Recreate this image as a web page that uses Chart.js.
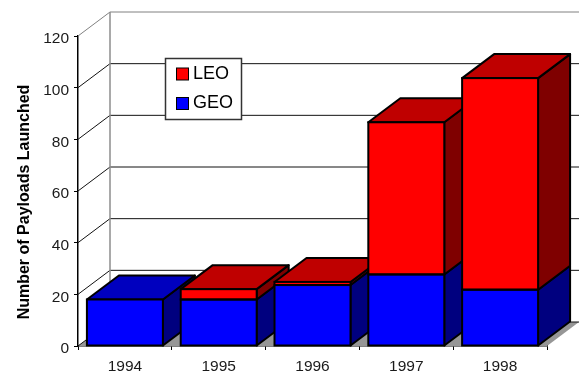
<!DOCTYPE html>
<html>
<head>
<meta charset="utf-8">
<style>
  html, body { margin: 0; padding: 0; background: #fff; }
  canvas { display: block; }
</style>
<script src="https://cdn.jsdelivr.net/npm/chart.js@4/dist/chart.umd.min.js"></script>
</head>
<body>
<canvas id="payloads" width="579" height="372"></canvas>
<script>
const years = ["1994", "1995", "1996", "1997", "1998"];
const geoValues = [18, 18, 23.6, 27.7, 21.8];
const leoValues = [0, 4, 1.2, 58.9, 81.9];
const axisTitle = "Number of Payloads Launched";

// how far the bars and the back wall are pushed back
const depthX = 32;
const depthY = 24;
const fontName = '"Liberation Sans", Arial, sans-serif';

function face(ctx, points, fill) {
  ctx.beginPath();
  points.forEach(function(p, i) {
    if (i === 0) ctx.moveTo(p[0], p[1]);
    else ctx.lineTo(p[0], p[1]);
  });
  ctx.closePath();
  ctx.fillStyle = fill;
  ctx.fill();
  ctx.stroke();
}

const wallPlugin = {
  id: "wall",
  beforeDatasetsDraw(chart) {
    const ctx = chart.ctx;
    const area = chart.chartArea;
    const yScale = chart.scales.y;
    const right = area.right + depthX;
    const backLeft = area.left + depthX;
    ctx.save();

    // floor
    ctx.fillStyle = "#969696";
    ctx.beginPath();
    ctx.moveTo(area.left, area.bottom);
    ctx.lineTo(area.right, area.bottom);
    ctx.lineTo(right, area.bottom - depthY);
    ctx.lineTo(backLeft, area.bottom - depthY);
    ctx.closePath();
    ctx.fill();

    // grid on side wall and back wall
    ctx.lineWidth = 1;
    yScale.ticks.forEach(function(t) {
      const y = yScale.getPixelForValue(t.value);
      ctx.strokeStyle = t.value === 120 ? "#808080" : "#111";
      ctx.beginPath();
      ctx.moveTo(area.left, y);
      ctx.lineTo(backLeft, y - depthY);
      ctx.lineTo(right, y - depthY);
      ctx.stroke();
    });

    ctx.strokeStyle = "#8c8c8c";
    ctx.lineWidth = 1.5;
    ctx.beginPath();
    ctx.moveTo(backLeft, area.top - depthY);
    ctx.lineTo(backLeft, area.bottom - depthY);
    ctx.stroke();

    // tops and sides, left to right, the fronts from Chart.js go over them
    ctx.strokeStyle = "#000";
    ctx.lineWidth = 2;
    ctx.lineJoin = "round";
    const geoBars = chart.getDatasetMeta(0).data;
    const leoBars = chart.getDatasetMeta(1).data;
    years.forEach(function(year, i) {
      const geo = geoBars[i];
      const leo = leoBars[i];
      const r = geo.x + geo.width / 2;
      const l = geo.x - geo.width / 2;
      face(ctx, [[r, geo.base], [r + depthX, geo.base - depthY], [r + depthX, geo.y - depthY], [r, geo.y]], "#00007f");
      if (leoValues[i] > 0) {
        face(ctx, [[r, geo.y], [r + depthX, geo.y - depthY], [r + depthX, leo.y - depthY], [r, leo.y]], "#7f0000");
        face(ctx, [[l, leo.y], [r, leo.y], [r + depthX, leo.y - depthY], [l + depthX, leo.y - depthY]], "#bf0000");
      } else {
        face(ctx, [[l, geo.y], [r, geo.y], [r + depthX, geo.y - depthY], [l + depthX, geo.y - depthY]], "#0000bf");
      }
    });
    ctx.restore();
  },
  afterDatasetsDraw(chart) {
    const ctx = chart.ctx;
    ctx.save();

    // black outline of the front faces
    ctx.strokeStyle = "#000";
    ctx.lineWidth = 2;
    [0, 1].forEach(function(d) {
      chart.getDatasetMeta(d).data.forEach(function(bar, i) {
        if (d === 1 && leoValues[i] === 0) return;
        ctx.strokeRect(bar.x - bar.width / 2, bar.y, bar.width, bar.base - bar.y);
      });
    });

    // legend box sits on the back wall
    ctx.fillStyle = "#fff";
    ctx.strokeStyle = "#333";
    ctx.lineWidth = 1.5;
    ctx.fillRect(165.5, 58.5, 76, 61);
    ctx.strokeRect(165.5, 58.5, 76, 61);
    ctx.font = "18px " + fontName;
    ctx.textBaseline = "alphabetic";
    [chart.data.datasets[1], chart.data.datasets[0]].forEach(function(ds, i) {
      const y = 68 + i * 29.5;
      ctx.fillStyle = ds.backgroundColor;
      ctx.strokeStyle = "#000";
      ctx.lineWidth = 1;
      ctx.fillRect(176.5, y, 12, 12);
      ctx.strokeRect(176.5, y, 12, 12);
      ctx.fillStyle = "#000";
      ctx.fillText(ds.label, 193, y + 10.5);
    });
    ctx.restore();
  }
};

new Chart(document.getElementById("payloads"), {
  type: "bar",
  data: {
    labels: years,
    datasets: [{
      label: "GEO",
      data: geoValues,
      backgroundColor: "#0000ff",
      borderWidth: 0,
      barPercentage: 0.81,
      categoryPercentage: 1
    }, {
      label: "LEO",
      data: leoValues,
      backgroundColor: "#ff0000",
      borderWidth: 0,
      barPercentage: 0.81,
      categoryPercentage: 1
    }]
  },
  options: {
    responsive: false,
    animation: false,
    layout: { padding: { top: 36, right: 32 } },
    plugins: {
      legend: { display: false },
      tooltip: { enabled: false }
    },
    scales: {
      x: {
        stacked: true,
        afterFit(scale) { scale.height = 26; },
        grid: { drawOnChartArea: false, tickLength: 4, color: "#000" },
        border: { color: "#000", width: 1.5 },
        ticks: { color: "#1a1a1a", padding: 7, maxRotation: 0, font: { family: fontName, size: 15.5 } }
      },
      y: {
        stacked: true,
        min: 0,
        max: 120,
        afterFit(scale) {
          scale.width = 78;
          // labels and title sit a little off from where Chart.js puts them
          const drawLabels = scale.drawLabels;
          scale.drawLabels = function(area) {
            this.ctx.save();
            this.ctx.translate(0, 1.5);
            drawLabels.call(this, area);
            this.ctx.restore();
          };
          const drawTitle = scale.drawTitle;
          scale.drawTitle = function(area) {
            this.ctx.save();
            this.ctx.translate(2, 5.5);
            drawTitle.call(this, area);
            this.ctx.restore();
          };
        },
        grid: { drawOnChartArea: false, tickLength: 4, color: "#000" },
        border: { color: "#000", width: 1.5 },
        ticks: { stepSize: 20, color: "#1a1a1a", padding: 5, font: { family: fontName, size: 15.5 } },
        title: {
          display: true,
          text: axisTitle,
          color: "#000",
          padding: { top: 11, bottom: 0 },
          font: { family: fontName, size: 16, weight: "bold" }
        }
      }
    }
  },
  plugins: [wallPlugin]
});
</script>
</body>
</html>
